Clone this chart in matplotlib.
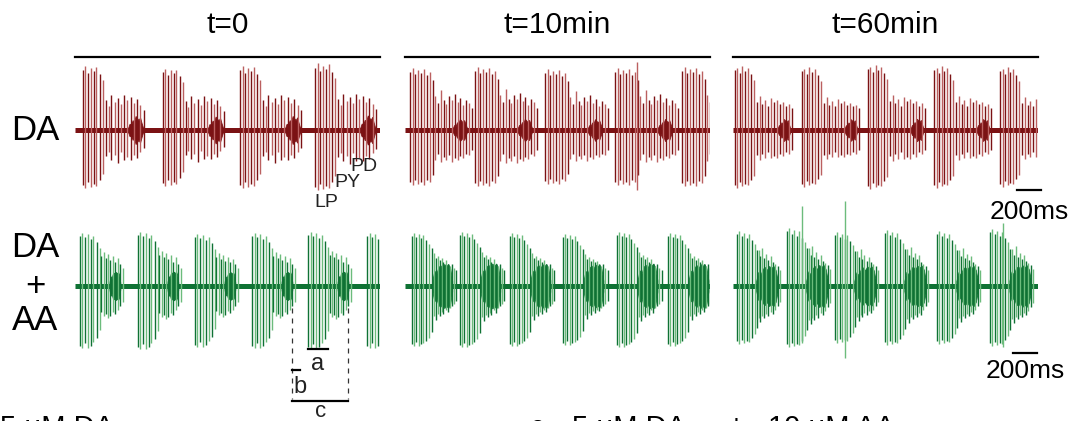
import matplotlib.pyplot as plt

plt.rcParams["font.family"] = ["Liberation Sans", "DejaVu Sans"]

W, H = 1074, 421
PANEL_MS = 2540

# ---- recorded bursts (ms from left edge of each panel) ----
# burst onsets per cycle and per-cycle amplitude scaling
onsets_da0 = [67, 733, 1375, 2000]
onsets_da10 = [42, 583, 1167, 1750, 2308]
onsets_da60 = [17, 575, 1125, 1675, 2225]
onsets_aa0 = [42, 525, 1000, 1475, 1942, 2433]
onsets_aa10 = [58, 458, 875, 1317, 1767, 2192]
onsets_aa60 = [33, 450, 850, 1267, 1700, 2142]

scale_da0 = [1.0, 0.96, 1.0, 1.04]
scale_da10 = [1.0, 1.02, 0.98, 1.0, 1.02]
scale_da60 = [1.0, 0.98, 1.02, 1.0, 0.98]
scale_aa0 = [1.0, 1.02, 0.98, 1.0, 1.02, 1.0]
scale_aa10 = [1.0, 1.02, 1.0, 0.98, 1.02, 1.0]
scale_aa60 = [1.0, 1.05, 0.98, 1.02, 1.0, 1.04]

# LP / PY spikes: (offset from onset ms, up, down)
lp_da0 = [(0, 60, 55), (20, 64, 58), (42, 57, 52), (64, 62, 57), (88, 59, 54),
          (112, 63, 56), (138, 56, 50), (165, 50, 44)]
py_da0 = [(190, 30, 26), (212, 24, 22), (236, 35, 30), (262, 28, 25), (288, 32, 33),
          (315, 26, 22), (342, 35, 30), (368, 30, 27), (396, 33, 30), (424, 27, 25),
          (452, 31, 28), (478, 25, 22), (505, 20, 18)]
lp_da10 = [(0, 58, 52), (22, 62, 55), (44, 56, 50), (66, 60, 54), (90, 57, 52),
           (115, 61, 55), (140, 55, 50), (165, 58, 52), (188, 50, 45)]
py_da10 = [(210, 34, 30), (232, 27, 24), (255, 40, 32), (280, 30, 27), (302, 26, 30),
           (325, 34, 25), (350, 30, 32), (372, 36, 28), (396, 28, 30), (420, 32, 26),
           (445, 25, 28), (470, 30, 24), (495, 27, 25), (520, 22, 20)]
lp_da60 = [(0, 60, 55), (20, 62, 58), (40, 57, 52), (62, 64, 56), (85, 59, 54),
           (110, 62, 55), (135, 56, 50), (158, 50, 46)]
py_da60 = [(180, 28, 25), (204, 34, 30), (228, 26, 24), (252, 30, 28), (277, 24, 22),
           (302, 32, 28), (327, 28, 26), (352, 30, 28), (377, 26, 24), (402, 28, 26),
           (427, 24, 22), (452, 26, 24), (477, 22, 20)]
lp_aa0 = [(0, 50, 60), (20, 53, 62), (42, 49, 57), (64, 52, 62), (88, 47, 60),
          (112, 50, 56), (138, 44, 52), (163, 38, 44)]
py_aa0 = [(178, 30, 26), (196, 34, 30), (214, 28, 28), (232, 32, 32), (252, 26, 30),
          (272, 30, 26), (292, 24, 28), (312, 28, 24), (334, 22, 20), (356, 18, 16)]
lp_aa10 = [(0, 50, 58), (18, 53, 60), (36, 49, 56), (55, 52, 60), (75, 48, 58),
           (96, 51, 57), (118, 46, 55), (142, 42, 52), (166, 38, 46)]
py_aa10 = [(182, 33, 30), (198, 28, 34), (214, 30, 28), (230, 26, 30), (246, 28, 26),
           (262, 24, 28), (280, 26, 24), (298, 22, 26), (316, 20, 22), (334, 22, 20),
           (352, 18, 18), (370, 16, 15)]
lp_aa60 = [(0, 52, 55), (18, 55, 58), (38, 50, 54), (58, 53, 57), (80, 48, 55),
           (102, 52, 56), (125, 46, 52), (148, 42, 48), (168, 36, 42)]
py_aa60 = [(180, 36, 32), (196, 30, 36), (212, 38, 30), (228, 28, 32), (245, 32, 28),
           (262, 26, 30), (280, 30, 26), (298, 24, 28), (318, 22, 24), (338, 20, 20),
           (358, 16, 16)]

# odd tall spikes (absolute ms, up, down)
tall_da10 = [(1933, 68, 60)]
tall_aa60 = [(575, 80, 57), (933, 85, 72), (2250, 63, 61)]

# PD burst: (start, end, half amplitude) relative to onset
pd_da0 = (375, 500, 14)
pd_da10 = (355, 475, 11)
pd_da60 = (355, 460, 11)
pd_aa0 = (245, 335, 14)
pd_aa10 = (170, 335, 22)
pd_aa60 = (160, 340, 20)

# PD burst envelope (fraction of burst duration, fraction of amplitude)
env_frac = [0.0, 0.1, 0.2, 0.3, 0.4, 0.5, 0.6, 0.7, 0.8, 0.9, 1.0]
env_da = [0.15, 0.45, 0.35, 0.7, 0.6, 1.0, 0.85, 0.7, 0.9, 0.5, 0.15]
env_aa = [0.25, 0.7, 0.55, 0.85, 0.95, 0.8, 1.0, 0.9, 1.0, 0.8, 0.25]

# period markers in the DA+AA t=0 trace (ms)
bar_a = [1942, 2105]
bar_b = [1810, 1877]
bar_c = [1810, 2277]

scale_bar_ms = 200

titles = ["t=0", "t=10min", "t=60min"]

RED_DARK, RED_LIGHT = "#7b1214", "#bb6060"
GRN_DARK, GRN_LIGHT = "#0f7234", "#6cbc7c"


def px_axes(fig, x0, x1, yc, half):
    ax = fig.add_axes([x0 / W, 1 - (yc + half) / H, (x1 - x0) / W, 2 * half / H])
    ax.set_xlim(0, PANEL_MS)
    ax.set_ylim(-half, half)
    ax.axis("off")
    return ax


def draw_trace(ax, onsets, scale, lp, py, pd, env, tall, dark, light):
    ax.plot([0, PANEL_MS], [0, 0], color=dark, lw=3.6, solid_capstyle="butt")
    spikes = lp + py
    for t0, s in zip(onsets, scale):
        xs = [t0 + dt for dt, up, dn in spikes]
        ys_top = [up * s for dt, up, dn in spikes]
        ys_bot = [-dn * s for dt, up, dn in spikes]
        cols = [light if i % 2 else dark for i in range(len(spikes))]
        ax.vlines(xs, ys_bot, ys_top, colors=cols, lw=1.0)
        pt = [t0 + pd[0] + f * (pd[1] - pd[0]) for f in env_frac]
        pa = [pd[2] * e * s for e in env]
        ax.fill_between(pt, [-a for a in pa], pa, color=dark, lw=0.6, edgecolor=dark)
    for t, up, dn in tall:
        ax.vlines(t, -dn, up, colors=light, lw=1.0)


fig = plt.figure(figsize=(W / 100, H / 100), dpi=100)

cols = [(75, 380), (405, 710), (733, 1038)]
top = [px_axes(fig, x0, x1, 130, 75) for x0, x1 in cols]
bot = [px_axes(fig, x0, x1, 286, 90) for x0, x1 in cols]

draw_trace(top[0], onsets_da0, scale_da0, lp_da0, py_da0, pd_da0, env_da, [], RED_DARK, RED_LIGHT)
draw_trace(top[1], onsets_da10, scale_da10, lp_da10, py_da10, pd_da10, env_da, tall_da10, RED_DARK, RED_LIGHT)
draw_trace(top[2], onsets_da60, scale_da60, lp_da60, py_da60, pd_da60, env_da, [], RED_DARK, RED_LIGHT)
draw_trace(bot[0], onsets_aa0, scale_aa0, lp_aa0, py_aa0, pd_aa0, env_aa, [], GRN_DARK, GRN_LIGHT)
draw_trace(bot[1], onsets_aa10, scale_aa10, lp_aa10, py_aa10, pd_aa10, env_aa, [], GRN_DARK, GRN_LIGHT)
draw_trace(bot[2], onsets_aa60, scale_aa60, lp_aa60, py_aa60, pd_aa60, env_aa, tall_aa60, GRN_DARK, GRN_LIGHT)

# overlines and titles
for ax, (x0, x1), title in zip(top, cols, titles):
    ax.plot([0, PANEL_MS], [73, 73], color="black", lw=1.6, clip_on=False)
    fig.text((x0 + x1) / 2 / W, 1 - 33 / H, title, ha="center", va="baseline", fontsize=21.5)

# row labels
fig.text(35 / W, 1 - 140 / H, "DA", ha="center", va="baseline", fontsize=25)
fig.text(35 / W, 1 - 257 / H, "DA", ha="center", va="baseline", fontsize=25)
fig.text(35 / W, 1 - 296 / H, "+", ha="center", va="baseline", fontsize=25)
fig.text(35 / W, 1 - 330 / H, "AA", ha="center", va="baseline", fontsize=25)

# neuron labels
fig.text(326 / W, 1 - 207 / H, "LP", ha="center", va="baseline", fontsize=14, color="#222222")
fig.text(347 / W, 1 - 187 / H, "PY", ha="center", va="baseline", fontsize=14, color="#222222")
fig.text(364 / W, 1 - 171 / H, "PD", ha="center", va="baseline", fontsize=14, color="#222222")

# scale bars
for ax, x0, ybar, ytxt in [(top[2], 2367, -60, -89), (bot[2], 2333, -67, -92)]:
    ax.plot([x0, x0 + scale_bar_ms], [ybar, ybar], color="black", lw=1.6, clip_on=False)
    ax.text(x0 + scale_bar_ms / 2, ytxt, "200ms", ha="center", va="baseline", fontsize=19)

# period markers
axm = bot[0]
for x in [bar_c[0], bar_c[1]]:
    axm.plot([x, x], [-22, -113], color="#333333", lw=0.9, ls=(0, (4, 4)), clip_on=False)
axm.plot(bar_a, [-63, -63], color="black", lw=1.6, clip_on=False)
axm.plot(bar_b, [-84, -84], color="black", lw=1.6, clip_on=False)
axm.plot(bar_c, [-115, -115], color="black", lw=1.6, clip_on=False)
axm.text(sum(bar_a) / 2, -84, "a", ha="center", va="baseline", fontsize=17, color="#222222")
axm.text(bar_b[0] + 5, -107, "b", ha="left", va="baseline", fontsize=17, color="#222222")
axm.text(sum(bar_c) / 2, -131, "c", ha="center", va="baseline", fontsize=16, color="#222222")

# captions cut by the bottom edge, as in the source figure
fig.text(0 / W, 1 - 436 / H, "5 μM DA", ha="left", va="baseline", fontsize=21)
fig.text(530 / W, 1 - 436 / H, "c", ha="left", va="baseline", fontsize=21)
fig.text(572 / W, 1 - 436 / H, "5 μM DA", ha="left", va="baseline", fontsize=21)
fig.text(736 / W, 1 - 436 / H, "+", ha="center", va="baseline", fontsize=21)
fig.text(768 / W, 1 - 436 / H, "10 μM AA", ha="left", va="baseline", fontsize=21)

fig.savefig("out.png", dpi=100)
